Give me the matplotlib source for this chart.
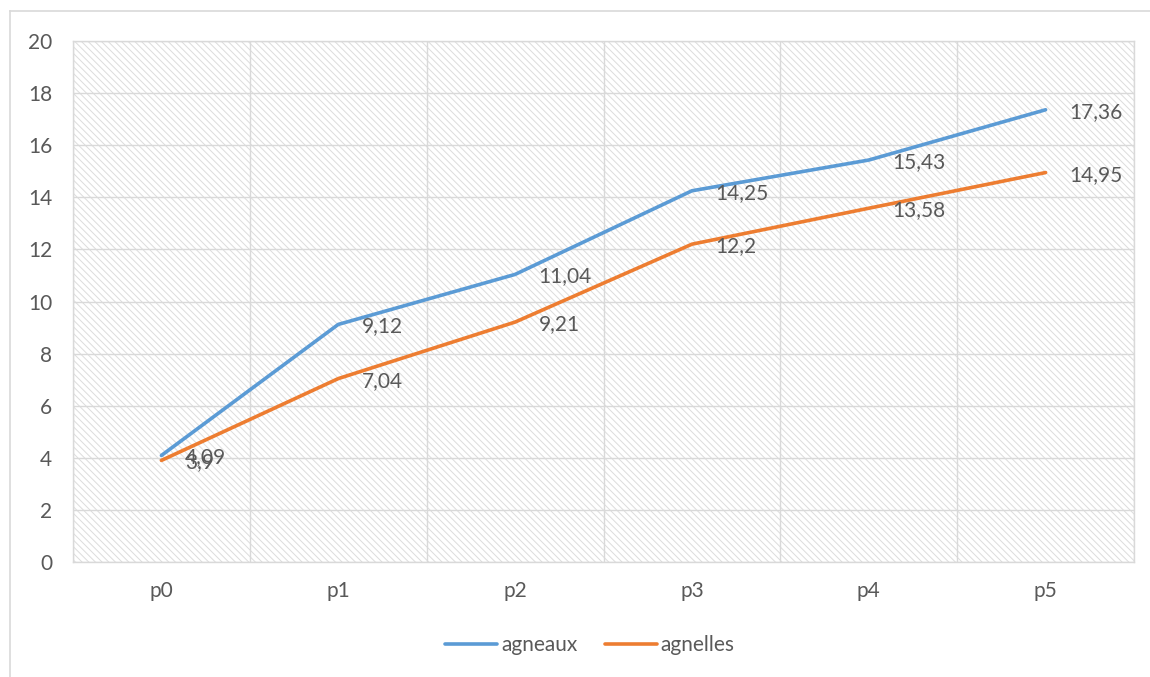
import matplotlib.pyplot as plt
from matplotlib.patches import Rectangle
from matplotlib.lines import Line2D

# data
categories = ['p0', 'p1', 'p2', 'p3', 'p4', 'p5']
agneaux = [4.09, 9.12, 11.04, 14.25, 15.43, 17.36]
agnelles = [3.9, 7.04, 9.21, 12.2, 13.58, 14.95]
series_names = ['agneaux', 'agnelles']
series_colors = ['#5B9BD5', '#ED7D31']
y_ticks = [0, 2, 4, 6, 8, 10, 12, 14, 16, 18, 20]

plt.rcParams['font.family'] = ['Lato', 'DejaVu Sans']
plt.rcParams['hatch.linewidth'] = 0.7
plt.rcParams['hatch.color'] = '#dcdcdc'

text_color = '#595959'
grid_color = '#d9d9d9'

fig = plt.figure(figsize=(11.5, 6.77), dpi=100)
ax = fig.add_axes([73 / 1150, 1 - 562 / 677, (1134 - 73) / 1150, (562 - 41) / 677])

# hatched plot area
ax.add_patch(Rectangle((0, 0), 1, 1, transform=ax.transAxes, facecolor='white',
                       edgecolor='#dcdcdc', hatch='\\\\\\\\\\', linewidth=0, zorder=0))

x = [i + 0.5 for i in range(len(categories))]
for name, vals, col in zip(series_names, [agneaux, agnelles], series_colors):
    ax.plot(x, vals, color=col, linewidth=2.6, label=name, zorder=3, solid_capstyle='round')
    for xi, v in zip(x, vals):
        ax.annotate(f'{v:g}'.replace('.', ','), (xi, v), xytext=(17, -1.5),
                    textcoords='offset points', ha='left', va='center',
                    fontsize=15, color=text_color, zorder=4)

ax.set_xlim(0, len(categories))
ax.set_ylim(0, 20)
ax.set_xticks(x)
ax.set_xticklabels(categories)
ax.set_xticks(range(len(categories) + 1), minor=True)
ax.set_yticks(y_ticks)
ax.tick_params(axis='both', which='both', length=0, labelsize=15, labelcolor=text_color)
ax.tick_params(axis='y', pad=15)
ax.tick_params(axis='x', pad=14)
ax.grid(axis='y', which='major', color=grid_color, linewidth=1, zorder=1)
ax.grid(axis='x', which='minor', color=grid_color, linewidth=1, zorder=1)
ax.set_axisbelow(True)
for s in ax.spines.values():
    s.set_color(grid_color)
    s.set_linewidth(1)

# outer chart border (only top and left visible)
fig.add_artist(Line2D([10 / 1150, 1], [1 - 11 / 677, 1 - 11 / 677], color=grid_color, linewidth=1.2))
fig.add_artist(Line2D([10 / 1150, 10 / 1150], [0, 1 - 11 / 677], color=grid_color, linewidth=1.2))

leg = fig.legend(loc='center', bbox_to_anchor=(0.513, 1 - 645 / 677), ncol=2, frameon=False,
                 fontsize=15, handlelength=2.5, handletextpad=0.2, columnspacing=1.3)
for t in leg.get_texts():
    t.set_color(text_color)

fig.savefig('out.png', dpi=100)
